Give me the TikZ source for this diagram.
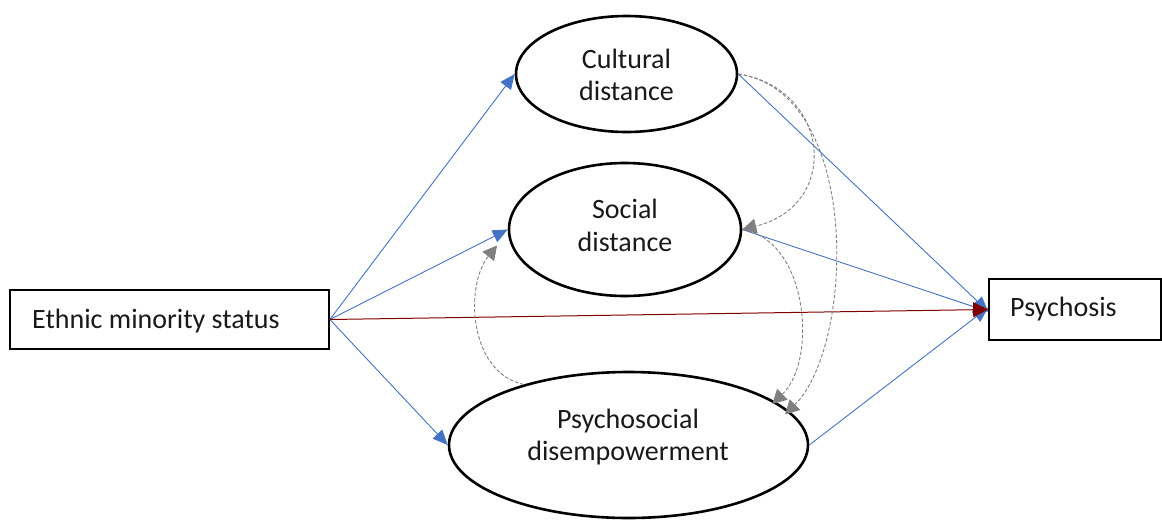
\documentclass[tikz,border=0pt]{standalone}
\usepackage{fontspec}
\setmainfont{Carlito}
\usetikzlibrary{shapes.geometric,arrows.meta}
\definecolor{pathblue}{RGB}{68,114,196}
\definecolor{pathred}{RGB}{128,0,0}
\definecolor{dashgrey}{RGB}{128,128,128}
\definecolor{inktext}{RGB}{25,25,25}
\begin{document}
\begin{tikzpicture}[x=1pt,y=-1pt,
  labelfont/.style={font=\fontsize{28}{32.5}\selectfont,text=inktext},
  box/.style={draw,line width=1.7pt,rectangle,inner sep=0pt},
  oval/.style={draw,line width=2.6pt,ellipse,inner sep=0pt},
  caption/.style={labelfont,align=center,inner sep=0pt},
  direct/.style={-{Triangle[length=15pt,width=13pt]},draw=pathblue,line width=0.9pt},
  mainpath/.style={-{Triangle[length=15pt,width=15pt]},draw=pathred,line width=1pt},
  feedback/.style={-{Triangle[length=14pt,width=15pt]},draw=dashgrey,line width=0.9pt,dash pattern=on 3.5pt off 2pt}]
\useasboundingbox (0,0) rectangle (1162,520);
% boxes
\node[box,minimum width=319pt,minimum height=59pt] (eth) at (169.5,319.5) {};
\node[anchor=west,labelfont,inner sep=0pt] (ethtxt) at (32,321) {Ethnic minority status};
\node[box,minimum width=172pt,minimum height=61pt] (psy) at (1075,309.5) {};
\node[anchor=west,labelfont,inner sep=0pt] (psytxt) at (1010,309) {Psychosis};
% mediators
\node[oval,minimum width=221pt,minimum height=116pt] (cul) at (626.5,74) {};
\node[caption] (cultxt) at (626.5,75) {Cultural\\distance};
\node[oval,minimum width=232pt,minimum height=133pt] (soc) at (625,229.5) {};
\node[caption] (soctxt) at (625,225.5) {Social\\distance};
\node[oval,minimum width=359pt,minimum height=146pt] (pso) at (628.5,445) {};
\node[caption] (psotxt) at (628,437) {Psychosocial\\disempowerment};
% direct paths
\draw[direct] (eth.east) -- (cul.west);
\draw[direct] (eth.east) -- (soc.west);
\draw[direct] (eth.east) -- (pso.west);
\draw[direct] (cul.east) -- ([yshift=-2pt]psy.west);
\draw[direct] (soc.east) -- ([yshift=-2pt]psy.west);
\draw[direct] (pso.east) -- ([yshift=2pt]psy.west);
\draw[mainpath] (eth.east) -- (psy.west);
% links between mediators
\draw[feedback] (cul.east) .. controls (830,88) and (842,205) .. (soc.east);
\draw[feedback] (cul.east) .. controls (862,92) and (855,345) .. ([xshift=2pt,yshift=-8pt]pso.14);
\draw[feedback] (soc.east) .. controls (808,240) and (818,360) .. ([xshift=2pt,yshift=-5pt]pso.18);
\draw[feedback] (pso.150) .. controls (468,372) and (465,285) .. ([xshift=-14pt]soc.188);
\end{tikzpicture}
\end{document}
